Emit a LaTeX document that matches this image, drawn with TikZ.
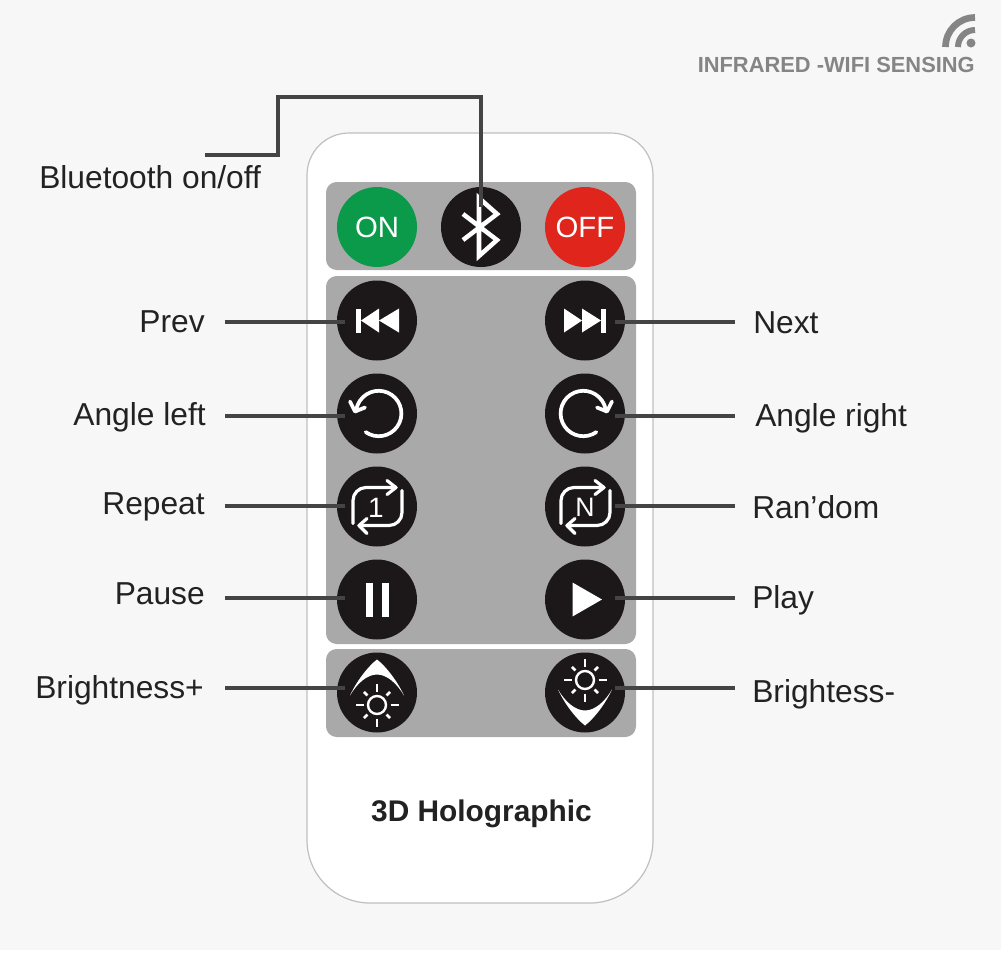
\documentclass[tikz,border=0pt]{standalone}
\usepackage{fontspec}
\setmainfont{Liberation Sans}
\usetikzlibrary{positioning}
\definecolor{pagegray}{HTML}{F7F7F7}
\definecolor{panelgray}{HTML}{A9A9A9}
\definecolor{buttonblack}{HTML}{1C1819}
\definecolor{leadgray}{HTML}{444444}
\definecolor{labelblack}{HTML}{222222}
\definecolor{wifigray}{HTML}{858585}
\definecolor{ongreen}{HTML}{0B9A4A}
\definecolor{offred}{HTML}{E0251C}
\tikzstyle{RoundButton} = [circle, fill=buttonblack, minimum size=60pt, inner sep=0pt, text=white, font=\fontsize{22}{24}\selectfont]
\tikzstyle{Panel} = [fill=panelgray, rounded corners=8pt]
\tikzstyle{Label} = [text=labelblack, font=\fontsize{23.8}{26}\selectfont, inner sep=0pt]
\tikzstyle{Lead} = [draw=leadgray, line width=2.3pt]
\tikzstyle{Glyph} = [draw=white, line width=2.8pt, line join=round, line cap=round]
\tikzstyle{GlyphFill} = [fill=white]

% the icons that appear twice
\newcommand{\turnicon}{
  \draw[Glyph] (1.7,0) ++(125:22.7) arc [start angle=125, end angle=-175, radius=22.7];
  \draw[Glyph] (-27,-12) -- (-22,-2) -- (-12,-6);
}
\newcommand{\loopicon}{
  \draw[Glyph, line width=2.4pt] (-24,17) -- (-24,-6) arc [start angle=180, end angle=270, radius=13] -- (19,-19);
  \draw[Glyph, line width=2.4pt] (10,-26) -- (19,-19) -- (10,-12);
  \draw[Glyph, line width=2.4pt] (25,-16) -- (25,6) arc [start angle=0, end angle=90, radius=13] -- (-18,19);
  \draw[Glyph, line width=2.4pt] (-10,12) -- (-18,19) -- (-10,27);
}
\newcommand{\lighticon}{
  \path[GlyphFill] (0,-33) .. controls (-9,-26) and (-20,-12) .. (-27,3) .. controls (-20,-9) and (-10,-18) .. (0,-18) .. controls (10,-18) and (20,-9) .. (27,3) .. controls (20,-12) and (9,-26) .. (0,-33) -- cycle;
  \draw[draw=white, line width=1.8pt] (0,12.5) circle (9);
  \foreach \a in {0,90,180,270} \draw[draw=white, line width=2pt] (0,12.5) ++(\a:13.5) -- ++(\a:8);
  \foreach \a in {45,135,225,315} \draw[draw=white, line width=2pt] (0,12.5) ++(\a:13.5) -- ++(\a:5);
}

\begin{document}
\begin{tikzpicture}[x=0.75pt, y=-0.75pt, on grid, node distance=69.75pt]

  \useasboundingbox (0,0) rectangle (1001,954);
  \fill[pagegray] (0,0) rectangle (1001,950);
  \fill[white] (0,950) rectangle (1001,954);

  % remote body and its panels
  \draw[draw=black!25, line width=0.9pt, fill=white] (307,175) arc [start angle=180, end angle=270, radius=42] -- (611,133) arc [start angle=270, end angle=360, radius=42] -- (653,840) arc [start angle=0, end angle=90, radius=63] -- (370,903) arc [start angle=90, end angle=180, radius=63] -- cycle;
  \path[Panel] (326,182) rectangle (636,270);
  \path[Panel] (326,276) rectangle (636,644);
  \path[Panel] (326,649) rectangle (636,737);

  % buttons
  \node[RoundButton, fill=ongreen] (on) at (377,227) {ON};
  \node[RoundButton] (bluetooth) [right = 78pt of on] {};
  \node[RoundButton, fill=offred] (off) [right = 78pt of bluetooth] {OFF};
  \node[RoundButton] (prev) at (377,320.5) {};
  \node[RoundButton] (next) [right = 156pt of prev] {};
  \node[RoundButton] (angleleft) [below = of prev] {};
  \node[RoundButton] (angleright) [below = of next] {};
  \node[RoundButton] (repeat) [below = of angleleft] {};
  \node[RoundButton] (random) [below = of angleright] {};
  \node[RoundButton] (pause) [below = of repeat] {};
  \node[RoundButton] (play) [below = of random] {};
  \node[RoundButton] (brightup) [below = of pause] {};
  \node[RoundButton] (brightdown) [below = of play] {};

  % icons
  \begin{scope}[shift={(bluetooth)}]
    \draw[Glyph, line width=3.4pt, line cap=butt, line join=miter] (-18,-13) -- (16,13) -- (-2,29) -- (-2,-29) -- (16,-13) -- (-18,13);
  \end{scope}
  \begin{scope}[shift={(prev)}]
    \path[GlyphFill] (-21,-12) rectangle (-16,12);
    \path[GlyphFill] (-16,0) -- (2,-12) -- (2,12) -- cycle;
    \path[GlyphFill] (2,0) -- (22,-12) -- (22,12) -- cycle;
  \end{scope}
  \begin{scope}[shift={(next)}]
    \path[GlyphFill] (21,-12) rectangle (16,12);
    \path[GlyphFill] (16,0) -- (-3,-12) -- (-3,12) -- cycle;
    \path[GlyphFill] (-3,0) -- (-21,-12) -- (-21,12) -- cycle;
  \end{scope}
  \begin{scope}[shift={(angleleft)}]
    \turnicon
  \end{scope}
  \begin{scope}[shift={(angleright)}, xscale=-1]
    \turnicon
  \end{scope}
  \begin{scope}[shift={(repeat)}]
    \loopicon
    \node[text=white, font=\fontsize{21}{22}\selectfont, inner sep=0pt] (one) at (-1,1) {1};
  \end{scope}
  \begin{scope}[shift={(random)}]
    \loopicon
    \node[text=white, font=\fontsize{20}{22}\selectfont, inner sep=0pt] (en) at (0,1) {N};
  \end{scope}
  \begin{scope}[shift={(pause)}]
    \path[GlyphFill] (-11,-17) rectangle (-4,17);
    \path[GlyphFill] (5,-17) rectangle (12,17);
  \end{scope}
  \begin{scope}[shift={(play)}]
    \path[GlyphFill] (-12.5,-17) -- (17,0) -- (-12.5,17) -- cycle;
  \end{scope}
  \begin{scope}[shift={(brightup)}]
    \lighticon
  \end{scope}
  \begin{scope}[shift={(brightdown)}, yscale=-1]
    \lighticon
  \end{scope}

  % labels
  \node[Label, anchor=east] (prevlabel) at (205,322) {Prev};
  \node[Label, anchor=east] (anglelabel) at (206,417) {Angle left};
  \node[Label, anchor=east] (repeatlabel) at (205,507) {Repeat};
  \node[Label, anchor=east] (pauselabel) at (205,594) {Pause};
  \node[Label, anchor=east] (brightuplabel) at (204,690) {Brightness+};
  \node[Label, anchor=west] (nextlabel) at (753,323) {Next};
  \node[Label, anchor=west] (anglerlabel) at (755,418) {Angle right};
  \node[Label, anchor=west] (randomlabel) at (752,507) {Ran’dom};
  \node[Label, anchor=west] (playlabel) at (752,600) {Play};
  \node[Label, anchor=west] (brightdownlabel) at (752,694) {Brightess-};
  \node[Label, anchor=west] (bluetoothlabel) at (39,177) {Bluetooth on/off};
  \node[text=labelblack, font=\bfseries\fontsize{22.4}{24}\selectfont, inner sep=0pt] (model) at (481.5,814) {3D Holographic};
  \node[text=wifigray, font=\bfseries\fontsize{16.4}{18}\selectfont, inner sep=0pt, anchor=east] (sensing) at (975,65) {INFRARED -WIFI SENSING};

  % wifi mark
  \draw[draw=wifigray, line width=5pt] (945.5,47) arc [start angle=180, end angle=270, radius=29.5];
  \draw[draw=wifigray, line width=4.5pt] (958,47) arc [start angle=180, end angle=270, radius=17];
  \fill[wifigray] (971,43) circle (4.5);

  % leads
  \coordinate (btstart) at (205,155);
  \coordinate (btend) at (481,207);
  \draw[Lead] (btstart) -- (278,155) -- (278,97) -- (481,97) -- (btend);
  \coordinate (prevstart) at (225,322);
  \coordinate (prevend) at (345,322);
  \draw[Lead] (prevstart) -- (prevend);
  \coordinate (anglestart) at (225,416);
  \coordinate (angleend) at (345,416);
  \draw[Lead] (anglestart) -- (angleend);
  \coordinate (repeatstart) at (225,506);
  \coordinate (repeatend) at (345,506);
  \draw[Lead] (repeatstart) -- (repeatend);
  \coordinate (pausestart) at (225,598);
  \coordinate (pauseend) at (345,598);
  \draw[Lead] (pausestart) -- (pauseend);
  \coordinate (brightupstart) at (225,688);
  \coordinate (brightupend) at (345,688);
  \draw[Lead] (brightupstart) -- (brightupend);
  \coordinate (nextstart) at (735,322);
  \coordinate (nextend) at (615,322);
  \draw[Lead] (nextstart) -- (nextend);
  \coordinate (anglerstart) at (735,416);
  \coordinate (anglerend) at (615,416);
  \draw[Lead] (anglerstart) -- (anglerend);
  \coordinate (randomstart) at (735,506);
  \coordinate (randomend) at (615,506);
  \draw[Lead] (randomstart) -- (randomend);
  \coordinate (playstart) at (735,598);
  \coordinate (playend) at (615,598);
  \draw[Lead] (playstart) -- (playend);
  \coordinate (brightdownstart) at (735,688);
  \coordinate (brightdownend) at (615,688);
  \draw[Lead] (brightdownstart) -- (brightdownend);
\end{tikzpicture}
\end{document}
